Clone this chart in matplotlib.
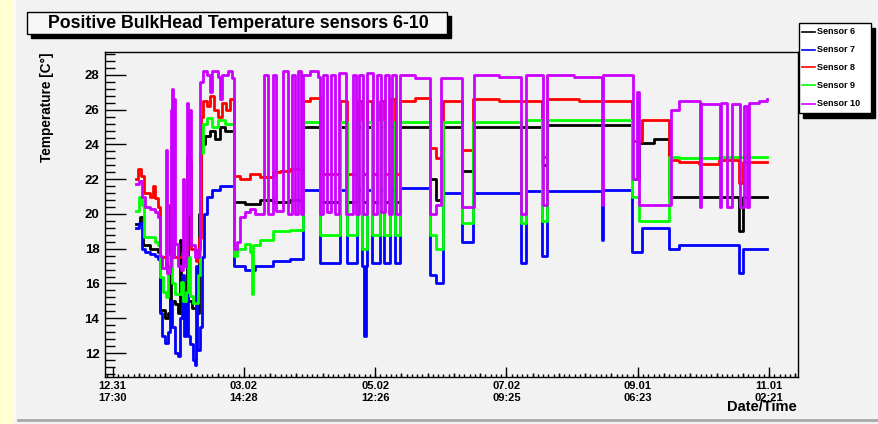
import matplotlib
matplotlib.use("Agg")
import matplotlib.pyplot as plt
from matplotlib.patches import Rectangle
from matplotlib.lines import Line2D
from matplotlib.ticker import FixedLocator, MultipleLocator

plt.rcParams['font.family'] = ['Liberation Sans', 'DejaVu Sans']

# ---------------- datos (dias desde 12.31 17:30, temperatura en C) ----------------
sensor_names = ["Sensor 6", "Sensor 7", "Sensor 8", "Sensor 9", "Sensor 10"]
sensor_colors = ["#000000", "#0000ff", "#ff0000", "#00ff00", "#cc00ff"]

tick_days = [0, 60.9, 121.8, 182.7, 243.7, 304.6]
tick_labels = ["12.31\n17:30", "03.02\n14:28", "05.02\n12:26", "07.02\n09:25", "09.01\n06:23", "11.01\n02:21"]

# Sensor 6 (negro)
t_s6 = [10.9, 12.7, 14.1, 17.4, 21.1, 22.0, 24.3, 25.7, 26.6, 27.1, 29.0, 30.3, 31.3, 31.7, 33.6, 34.5, 35.0,
        36.8, 39.1, 40.1, 41.0, 42.8, 45.2, 47.5, 49.8, 52.1, 56.3, 61.4, 68.3, 74.3, 82.2, 88.2, 96.1, 105.4,
        108.6, 113.2, 115.6, 117.9, 120.2, 123.9, 125.8, 128.5, 130.9, 133.2, 147.1, 149.9, 153.1, 161.9, 167.0,
        199.4, 201.7, 241.1, 244.3, 251.3, 258.2, 290.6, 292.4, 303.5]
v_s6 = [19.4, 19.8, 18.2, 18.0, 17.8, 14.5, 14.0, 14.3, 20.5, 15.0, 14.8, 14.3, 18.5, 15.5, 16.0, 20.5, 15.0,
        14.6, 14.3, 20.0, 24.0, 24.5, 24.8, 24.3, 25.0, 24.8, 20.7, 20.6, 20.8, 20.7, 20.8, 25.0, 20.7, 25.0,
        20.7, 25.0, 20.7, 25.0, 20.7, 25.0, 20.7, 25.0, 20.7, 25.0, 22.0, 20.8, 25.0, 22.5, 25.0,
        22.8, 25.1, 22.0, 24.1, 24.3, 21.0, 19.0, 21.0, 21.0]

# Sensor 7 (azul)
t_s7 = [10.9, 12.3, 13.7, 15.1, 17.4, 19.7, 21.1, 22.0, 22.9, 24.3, 25.7, 26.6, 27.6, 29.0, 30.3, 31.3, 32.2,
        33.1, 34.0, 35.0, 35.9, 37.3, 38.2, 38.7, 39.1, 40.5, 41.5, 42.4, 43.8, 46.1, 49.8, 56.3, 61.4, 66.0,
        74.3, 82.2, 88.2, 96.1, 105.4, 108.6, 113.2, 115.6, 116.5, 117.4, 117.9, 120.2, 123.9, 125.8, 128.5,
        130.9, 133.2, 147.1, 149.9, 153.1, 161.9, 167.0, 189.7, 192.0, 199.4, 201.7, 227.2, 227.7, 241.1,
        245.7, 258.2, 262.9, 290.6, 292.4, 303.5]
v_s7 = [19.2, 19.5, 18.0, 17.8, 17.7, 17.6, 17.4, 14.3, 13.0, 12.6, 13.2, 15.0, 13.5, 12.0, 11.8, 14.0, 16.5,
        13.0, 15.5, 13.0, 12.5, 11.6, 11.3, 17.0, 12.2, 13.5, 17.5, 20.0, 21.0, 21.4, 21.6, 17.0, 16.8, 17.0,
        17.3, 17.4, 21.4, 17.2, 21.4, 17.2, 21.4, 17.0, 13.0, 17.0, 21.4, 17.2, 21.4, 17.2, 21.4,
        17.2, 21.5, 16.5, 16.0, 21.2, 18.4, 21.2, 17.2, 21.3, 17.6, 21.3, 18.5, 21.4, 17.8,
        19.2, 18.0, 18.2, 16.6, 18.0, 18.0]

# Sensor 8 (rojo)
t_s8 = [10.9, 11.8, 13.2, 14.6, 17.4, 18.8, 19.7, 21.1, 22.0, 24.8, 26.2, 26.6, 28.5, 32.2, 33.6, 34.5, 35.9,
        36.4, 38.7, 40.1, 41.0, 41.9, 43.8, 45.2, 47.0, 48.9, 50.7, 52.6, 54.4, 56.3, 59.1, 63.7, 68.3, 74.3,
        77.6, 82.2, 88.2, 91.5, 96.1, 105.4, 108.6, 113.2, 115.6, 117.9, 120.2, 123.9, 125.8, 128.5, 130.9,
        133.2, 140.1, 147.1, 149.9, 153.1, 161.9, 167.0, 179.5, 199.4, 201.7, 216.5, 241.1, 245.7, 258.2,
        262.9, 272.1, 281.4, 290.6, 292.4, 303.5]
v_s8 = [22.0, 22.6, 22.2, 21.2, 21.0, 21.6, 20.9, 20.4, 17.5, 17.0, 17.3, 20.5, 17.5, 17.8, 17.2, 23.3, 23.0,
        18.0, 17.3, 18.6, 25.6, 26.5, 26.2, 26.8, 26.0, 25.6, 26.4, 26.0, 26.6, 22.2, 22.0, 22.3, 22.1, 22.4,
        22.5, 22.6, 26.5, 26.7, 22.3, 26.5, 22.3, 26.5, 22.3, 26.5, 22.3, 26.5, 22.3, 26.6, 22.3,
        26.5, 26.7, 23.8, 23.2, 26.5, 23.7, 26.6, 26.5, 23.3, 26.6, 26.5, 24.2, 25.4, 23.1,
        23.0, 22.9, 23.1, 21.8, 23.0, 23.0]

# Sensor 9 (verde)
t_s9 = [10.9, 12.3, 13.7, 14.6, 19.7, 21.1, 22.0, 23.4, 24.8, 25.7, 26.6, 27.6, 29.0, 31.7, 32.7, 34.0, 35.0,
        35.9, 37.3, 39.6, 40.5, 41.9, 43.8, 46.1, 48.9, 52.1, 56.3, 57.7, 61.4, 63.7, 64.6, 65.1, 68.3, 74.3,
        82.2, 88.2, 96.1, 105.4, 108.6, 113.2, 115.6, 117.9, 120.2, 123.9, 125.8, 128.5, 130.9, 133.2, 147.1,
        149.9, 153.1, 161.9, 167.0, 189.7, 192.0, 199.4, 201.7, 241.1, 244.3, 258.2, 262.9, 281.4, 303.5]
v_s9 = [20.2, 21.0, 20.5, 18.7, 18.4, 18.2, 16.4, 15.5, 15.2, 16.6, 17.6, 16.0, 15.4, 16.1, 15.0, 15.5, 17.5,
        15.3, 14.9, 16.5, 23.5, 25.2, 25.5, 25.0, 25.4, 25.2, 17.6, 18.0, 18.3, 17.8, 15.4, 18.2, 18.5, 19.0,
        19.1, 25.3, 18.8, 25.3, 18.8, 25.3, 18.0, 25.3, 18.8, 25.3, 18.8, 25.3, 18.8, 25.3, 18.8,
        18.0, 25.3, 19.5, 25.3, 19.5, 25.4, 19.6, 25.4, 21.0, 19.6, 23.3, 23.2, 23.3, 23.3]

# Sensor 10 (violeta)
t_s10 = [10.9, 12.3, 13.7, 15.1, 17.4, 19.7, 21.1, 22.0, 22.9, 24.8, 25.2, 26.6, 27.1, 27.6, 28.0, 28.5, 29.0,
         30.3, 31.7, 32.7, 33.1, 34.0, 34.5, 35.0, 35.9, 36.4, 38.2, 40.1, 40.5, 41.9, 43.8, 45.2, 46.1, 48.9,
         49.8, 50.7, 53.5, 55.4, 56.3, 57.7, 59.1, 61.4, 63.7, 66.0, 70.2, 72.0, 74.3, 75.7, 79.0, 81.3, 83.1,
         84.5, 85.9, 87.3, 88.2, 91.5, 95.2, 96.1, 97.5, 99.4, 101.2, 103.1, 104.9, 108.1, 111.4, 112.8, 114.2,
         116.0, 117.9, 120.7, 122.5, 124.4, 126.2, 128.1, 129.5, 131.3, 133.2, 140.1, 147.1, 149.9, 152.6,
         161.9, 167.5, 179.5, 189.7, 192.0, 199.9, 201.7, 214.2, 227.2, 227.7, 241.6, 243.4, 244.3, 259.2,
         262.9, 272.6, 273.0, 281.8, 282.3, 285.1, 287.4, 291.1, 292.9, 294.3, 295.3, 299.9, 303.5]
v_s10 = [21.7, 21.9, 21.0, 20.4, 20.3, 20.1, 19.8, 17.6, 16.9, 23.7, 16.6, 17.0, 26.0, 27.2, 17.5, 26.6, 18.3,
         17.0, 16.8, 22.0, 17.0, 17.6, 26.4, 20.0, 26.0, 18.2, 17.5, 18.0, 27.6, 28.2, 28.0, 27.0, 28.2, 27.9,
         26.6, 28.0, 28.2, 27.8, 18.0, 18.4, 19.8, 20.1, 20.3, 20.0, 28.0, 20.0, 28.0, 20.2, 28.2, 20.0, 28.0,
         20.0, 28.2, 20.0, 28.0, 28.2, 27.9, 20.0, 28.0, 20.1, 28.0, 20.0, 28.1, 20.0, 28.0, 20.0, 28.0,
         20.0, 28.1, 20.0, 28.0, 20.1, 28.0, 20.0, 28.0, 20.0, 28.0, 27.8, 20.0, 20.5, 27.8,
         20.4, 28.0, 27.9, 20.0, 28.0, 20.5, 28.0, 27.9, 20.5, 28.0, 22.0, 27.0, 20.5, 26.0,
         26.5, 20.4, 26.3, 20.4, 26.4, 20.4, 26.3, 20.4, 26.2, 20.4, 26.4, 26.5, 26.6]

series_t = [t_s6, t_s7, t_s8, t_s9, t_s10]
series_v = [v_s6, v_s7, v_s8, v_s9, v_s10]

# ---------------- figura ----------------
W, H = 879, 424
def fx(p):
    return p / W
def fy(p):
    return 1 - p / H

bg = "#f2f2f2"
fig = plt.figure(figsize=(W / 100, H / 100), dpi=100, facecolor=bg)

# franja amarilla a la izquierda y bordes del canvas
fig.add_artist(Rectangle((0, 0), fx(13), 1, transform=fig.transFigure, color="#ffffd0", zorder=0))
fig.add_artist(Line2D([fx(14), fx(14)], [fy(0), fy(420)], transform=fig.transFigure, color="#fafafa", lw=2))
fig.add_artist(Line2D([fx(18), fx(879)], [fy(420), fy(420)], transform=fig.transFigure, color="#a8a8a8", lw=2))

ax = fig.add_axes([fx(105), fy(377), fx(798) - fx(105), fy(52) - fy(377)])
ax.set_facecolor(bg)

for t, v, c in zip(series_t, series_v, sensor_colors):
    ax.step(t, v, where='post', color=c, lw=2.0)

ax.set_xlim(-3.5, 318.0)
ax.set_ylim(10.62, 29.32)

for s in ax.spines.values():
    s.set_linewidth(1.0)
    s.set_color("black")

# ejes y marcas
ax.yaxis.set_major_locator(FixedLocator([12, 14, 16, 18, 20, 22, 24, 26, 28]))
ax.yaxis.set_minor_locator(MultipleLocator(0.4))
ax.xaxis.set_major_locator(FixedLocator(tick_days))
ax.xaxis.set_minor_locator(MultipleLocator(60.915 / 25))
ax.set_xticklabels(tick_labels)
ax.tick_params(axis='y', which='major', direction='in', length=15, width=1, pad=4, labelsize=9.5)
ax.tick_params(axis='y', which='minor', direction='in', length=7.5, width=1)
ax.tick_params(axis='x', which='major', direction='in', length=7, width=1, pad=3, labelsize=8)
ax.tick_params(axis='x', which='minor', direction='in', length=2, width=1)
for lab in ax.get_xticklabels() + ax.get_yticklabels():
    lab.set_fontweight('bold')
    lab.set_linespacing(1.2)

# marcas intermedias del eje de tiempo
mid_ticks = [d + k * 60.915 / 5 for d in [-60.915] + tick_days for k in range(1, 5)]
mid_ticks = [m for m in mid_ticks if -3.5 < m < 318.0]
ax.vlines(mid_ticks, 0, 0.012, transform=ax.get_xaxis_transform(), color="black", lw=1)

# titulos
fig.text(fx(47), fy(52), "Temperature [C\u00b0]", rotation=90, ha='center', va='top',
         fontsize=9.8, fontweight='bold')
fig.text(fx(797), fy(407), "Date/Time", ha='right', va='center', fontsize=10.5, fontweight='bold')

# caja del titulo con sombra
fig.add_artist(Rectangle((fx(31), fy(38)), fx(447) - fx(27), fy(12) - fy(34),
                         transform=fig.transFigure, color="black", zorder=2))
fig.add_artist(Rectangle((fx(27), fy(34)), fx(447) - fx(27), fy(12) - fy(34),
                         transform=fig.transFigure, facecolor="#f7f7f7", edgecolor="black", lw=1, zorder=3))
fig.text(fx(238), fy(23), "Positive BulkHead Temperature sensors 6-10", ha='center', va='center',
         fontsize=12.8, fontweight='bold', zorder=4)

# leyenda
fig.add_artist(Rectangle((fx(803), fy(118)), fx(871) - fx(799), fy(23) - fy(113),
                         transform=fig.transFigure, color="black", zorder=5))
fig.add_artist(Rectangle((fx(799), fy(113)), fx(871) - fx(799), fy(23) - fy(113),
                         transform=fig.transFigure, facecolor="white", edgecolor="black", lw=1, zorder=6))
ys = [32, 49.5, 67, 85, 103.5]
for name, c, yy in zip(sensor_names, sensor_colors, ys):
    fig.add_artist(Line2D([fx(802), fx(815)], [fy(yy), fy(yy)], transform=fig.transFigure,
                          color=c, lw=1.2, zorder=7))
    fig.text(fx(817), fy(yy), name, ha='left', va='center', fontsize=6.5, fontweight='bold', zorder=7)

fig.savefig("out.png", dpi=100, facecolor=bg)
